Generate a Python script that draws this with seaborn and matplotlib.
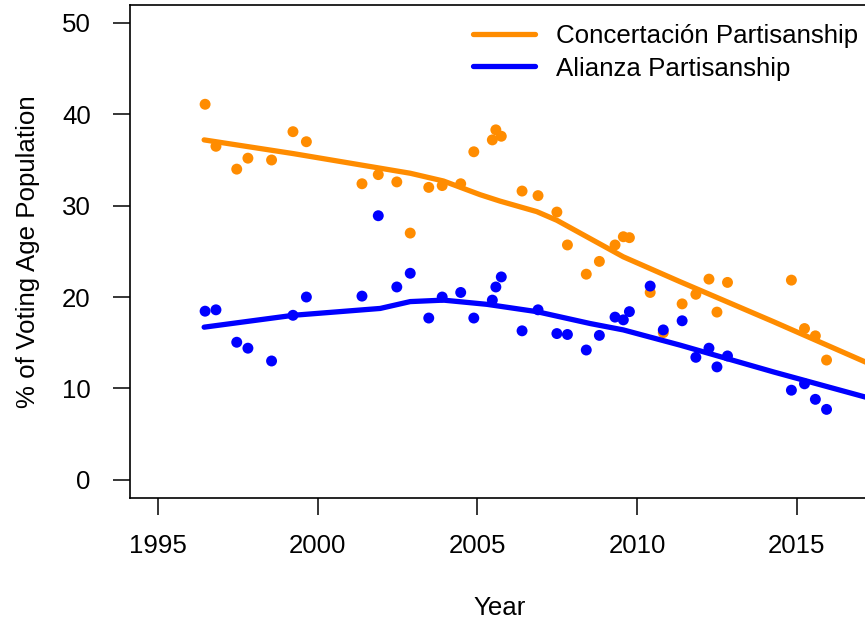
import matplotlib
matplotlib.use("Agg")
import matplotlib.pyplot as plt
import seaborn as sns

# survey dates (decimal years) shared by both series
years = [1996.48, 1996.82, 1997.47, 1997.82, 1998.56, 1999.23, 1999.65,
         2001.39, 2001.90, 2002.48, 2002.90, 2003.48, 2003.90, 2004.48,
         2004.89, 2005.47, 2005.58, 2005.75, 2006.40, 2006.90, 2007.49,
         2007.82, 2008.41, 2008.82, 2009.31, 2009.57, 2009.76, 2010.41,
         2010.82, 2011.41, 2011.84, 2012.25, 2012.50, 2012.83, 2014.83,
         2015.24, 2015.58, 2015.93]

concertacion = [41.1, 36.5, 34.0, 35.2, 35.0, 38.1, 37.0, 32.4, 33.4, 32.6,
                27.0, 32.0, 32.2, 32.4, 35.9, 37.2, 38.3, 37.6, 31.6, 31.1,
                29.3, 25.7, 22.5, 23.9, 25.7, 26.6, 26.5, 20.5, 16.1, 19.25,
                20.3, 21.96, 18.35, 21.6, 21.85, 16.55, 15.75, 13.1]

alianza = [18.45, 18.6, 15.05, 14.4, 13.0, 18.0, 20.0, 20.1, 28.9, 21.1,
           22.6, 17.7, 20.0, 20.5, 17.7, 19.66, 21.1, 22.2, 16.3, 18.6,
           16.0, 15.9, 14.2, 15.8, 17.8, 17.5, 18.4, 21.2, 16.4, 17.4,
           13.4, 14.4, 12.35, 13.55, 9.8, 10.5, 8.8, 7.7]

# smoothed trends
conc_fit_x = [1996.45, 1999.24, 2002.90, 2003.94, 2005.09, 2005.71, 2006.86,
              2007.49, 2008.53, 2009.57, 2011.35, 2014.27, 2017.30]
conc_fit_y = [37.2, 35.7, 33.55, 32.7, 31.2, 30.5, 29.35, 28.4, 26.4, 24.4,
              21.67, 17.3, 12.65]

alia_fit_x = [1996.45, 1999.24, 2001.96, 2002.90, 2003.94, 2005.30, 2006.86,
              2008.53, 2009.57, 2011.35, 2014.27, 2017.30]
alia_fit_y = [16.7, 18.0, 18.75, 19.5, 19.66, 19.2, 18.4, 17.1, 16.4, 14.73,
              11.8, 8.9]

orange = "#FF8C00"
blue = "#0000FF"

sns.set_style("ticks")
plt.rcParams['font.family'] = ['Liberation Sans', 'DejaVu Sans']
fs = 18.6

fig = plt.figure(figsize=(8.65, 6.23), dpi=100)
ax = fig.add_axes([129.7 / 865, 125 / 623, (870 - 129.7) / 865, (498 - 4.7) / 623])

sns.scatterplot(x=years, y=concertacion, color=orange, s=62, edgecolor="none", ax=ax)
sns.scatterplot(x=years, y=alianza, color=blue, s=62, edgecolor="none", ax=ax)
sns.lineplot(x=conc_fit_x, y=conc_fit_y, color=orange, lw=3.8, ax=ax,
             label="Concertación Partisanship", estimator=None)
sns.lineplot(x=alia_fit_x, y=alia_fit_y, color=blue, lw=3.8, ax=ax,
             label="Alianza Partisanship", estimator=None)

ax.set_xlim(1994.12, 2017.29)
ax.set_ylim(-2, 52)
ax.set_xticks([1995, 2000, 2005, 2010, 2015])
ax.set_yticks([0, 10, 20, 30, 40, 50])
ax.tick_params(labelsize=fs, length=12, width=1.1, color="black", labelcolor="black")
ax.tick_params(axis="x", pad=14)
ax.tick_params(axis="y", pad=16)
for sp in ax.spines.values():
    sp.set_visible(True)
    sp.set_linewidth(1.2)
    sp.set_color("black")

ax.set_xlabel("Year", fontsize=fs, labelpad=27, color="black")
ax.set_ylabel("% of Voting Age Population", fontsize=fs, labelpad=16, color="black")

leg = ax.legend(loc="upper left", bbox_to_anchor=(473.3 / 865, 1 - 24 / 623),
                bbox_transform=fig.transFigure, frameon=False, fontsize=fs,
                borderaxespad=0, borderpad=0, handlelength=2.4,
                handletextpad=0.8, labelspacing=0.33)
for t in leg.get_texts():
    t.set_color("black")

fig.savefig("out.png", dpi=100)
